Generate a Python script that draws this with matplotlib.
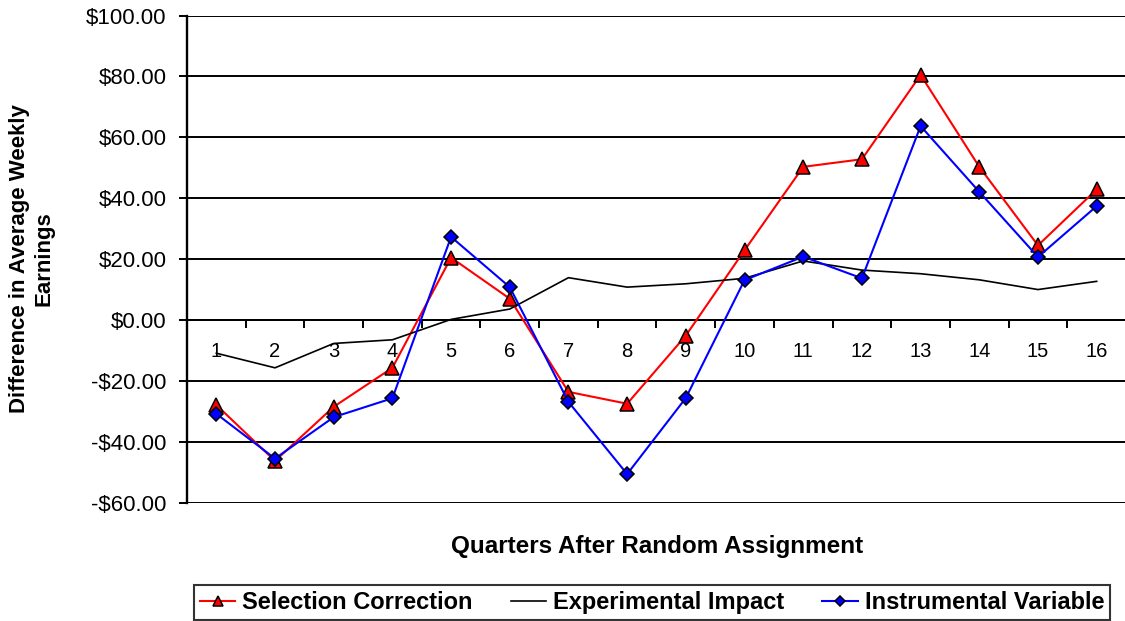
import matplotlib
matplotlib.use('Agg')
import matplotlib.pyplot as plt

plt.rcParams['font.family'] = ['Liberation Sans', 'DejaVu Sans']

quarters = list(range(1, 17))
selection_correction = [-27.9, -46.3, -28.5, -15.7, 20.5, 7.0, -23.6, -27.5,
                        -5.1, 22.9, 50.3, 52.8, 80.5, 50.3, 24.5, 42.9]
experimental_impact = [-10.9, -15.7, -7.7, -6.5, 0.2, 3.6, 13.9, 10.8,
                       11.9, 13.7, 19.4, 16.4, 15.2, 13.2, 10.0, 12.7]
instrumental_variable = [-30.8, -45.5, -31.9, -25.7, 27.3, 10.8, -26.9, -50.6,
                         -25.6, 13.1, 20.8, 13.7, 63.7, 42.1, 20.7, 37.4]
y_ticks = [-60, -40, -20, 0, 20, 40, 60, 80, 100]
y_tick_labels = [('-' if v < 0 else '') + '${:.2f}'.format(abs(v)) for v in y_ticks]

fig = plt.figure(figsize=(11.25, 6.21), dpi=100)
ax = fig.add_axes([0.1662, 0.1905, 0.8347, 0.7845])

# move the x axis up to zero first, this resets the tick settings
ax.spines['bottom'].set_position(('data', 0))
ax.spines['bottom'].set_linewidth(1.4)
ax.spines['left'].set_linewidth(1.7)
ax.spines['top'].set_visible(False)
ax.spines['right'].set_visible(False)

ax.plot(quarters, selection_correction, color='red', linewidth=1.5, marker='^',
        markersize=9.5, markerfacecolor='red', markeredgecolor='black', markeredgewidth=1.1,
        label='Selection Correction', zorder=3)
ax.plot(quarters, experimental_impact, color='black', linewidth=1.2,
        label='Experimental Impact', zorder=3)
ax.plot(quarters, instrumental_variable, color='blue', linewidth=1.5, marker='D',
        markersize=7, markerfacecolor='blue', markeredgecolor='black', markeredgewidth=1.1,
        label='Instrumental Variable', zorder=3)

ax.set_xlim(0.5, 16.5)
ax.set_ylim(-60, 100)

ax.set_yticks(y_ticks)
ax.set_yticklabels(y_tick_labels)
ax.tick_params(axis='y', length=5.8, width=1.4, pad=9, direction='out', labelsize=16)
ax.yaxis.grid(True, color='black', linewidth=1.4)
ax.set_axisbelow(True)

ax.set_xticks(quarters)
ax.set_xticklabels([str(q) for q in quarters])
ax.set_xticks([q + 0.5 for q in range(0, 17)], minor=True)
ax.tick_params(axis='x', which='major', length=0, pad=16, labelsize=14.5)
ax.tick_params(axis='x', which='minor', length=5.8, width=1.4, direction='out')

fig.text(32 / 1125, 1 - 259 / 621, 'Difference in Average Weekly\nEarnings',
         rotation=90, ha='center', va='center', fontsize=16, fontweight='bold',
         multialignment='center')
fig.text(657.5 / 1125, 1 - 547 / 621, 'Quarters After Random Assignment',
         ha='center', va='center', fontsize=17.5, fontweight='bold')

leg = fig.legend(loc='center', bbox_to_anchor=(652 / 1125, 1 - 602.5 / 621), ncol=3,
                 prop={'size': 17, 'weight': 'bold'}, frameon=True, fancybox=False,
                 edgecolor='black', handlelength=1.5, handletextpad=0.3,
                 columnspacing=1.6, borderpad=0.25, markerscale=0.7, borderaxespad=0)
leg.get_frame().set_linewidth(1.5)

plt.savefig('out.png', dpi=100)
